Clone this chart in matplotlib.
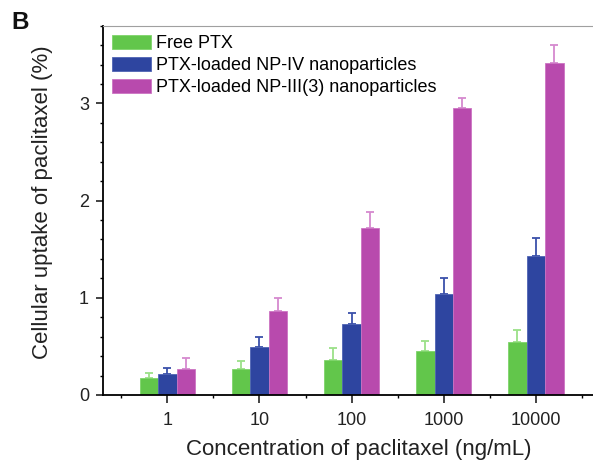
import numpy as np
import matplotlib.pyplot as plt
from matplotlib.ticker import MultipleLocator

plt.rcParams['font.family'] = ['Liberation Sans', 'DejaVu Sans']

# ── Data ──────────────────────────────────────────────────────────────────────
concentrations = ["1", "10", "100", "1000", "10000"]
series_names = ["Free PTX", "PTX-loaded NP-IV nanoparticles",
                "PTX-loaded NP-III(3) nanoparticles"]
free_ptx = [0.176, 0.272, 0.362, 0.453, 0.542]
free_ptx_err = [0.055, 0.073, 0.121, 0.106, 0.123]
np_iv = [0.217, 0.49, 0.73, 1.039, 1.43]
np_iv_err = [0.062, 0.103, 0.117, 0.168, 0.188]
np_iii = [0.266, 0.869, 1.716, 2.95, 3.419]
np_iii_err = [0.113, 0.124, 0.164, 0.106, 0.179]

colors = ["#62c64b", "#2e45a0", "#b84aad"]
edge_colors = ["#7ed46a", "#4f64b4", "#cc74c3"]
err_colors = ["#9be088", "#3a50aa", "#d589cf"]

# ── Plot ──────────────────────────────────────────────────────────────────────
fig = plt.figure(figsize=(5.93, 4.61), dpi=100)
ax = fig.add_axes([0.1737, 0.1432, 0.8263, 0.8011])

x = np.arange(len(concentrations))
width = 0.2
for i, (vals, errs) in enumerate([(free_ptx, free_ptx_err),
                                  (np_iv, np_iv_err),
                                  (np_iii, np_iii_err)]):
    pos = x + (i - 1) * width
    ax.bar(pos, vals, width, color=colors[i], edgecolor=edge_colors[i],
           linewidth=0.6, label=series_names[i], zorder=2)
    ax.errorbar(pos, vals, yerr=[np.zeros(len(vals)), errs], fmt="none",
                ecolor=err_colors[i], elinewidth=1.3, capsize=2.6,
                capthick=1.3, zorder=1)

ax.set_xlim(-0.698, 4.62)
ax.set_ylim(0, 3.8)
ax.set_xticks(x)
ax.set_xticklabels(concentrations)
ax.set_xticks(np.arange(-0.5, 4.6, 1), minor=True)
ax.yaxis.set_major_locator(MultipleLocator(1))
ax.yaxis.set_minor_locator(MultipleLocator(0.2))
ax.tick_params(which="major", direction="out", length=5, width=1.2,
               labelsize=13, pad=5, colors="#222222")
ax.tick_params(which="minor", direction="out", length=2.5, width=1)
ax.tick_params(axis="x", which="major", length=5.5, pad=7)

ax.spines["right"].set_visible(False)
ax.spines["top"].set_color("#a0a0a0")
ax.spines["top"].set_linewidth(0.8)
for side in ["left", "bottom"]:
    ax.spines[side].set_linewidth(1.3)

ax.set_xlabel("Concentration of paclitaxel (ng/mL)", fontsize=16,
              color="#222222")
ax.set_ylabel("Cellular uptake of paclitaxel (%)", fontsize=16,
              color="#222222")
ax.xaxis.set_label_coords(0.522, -0.118)
ax.yaxis.set_label_coords(-0.103, 0.523)

ax.legend(loc="upper left", frameon=False, fontsize=13,
          handlelength=2.14, handleheight=0.83, handletextpad=0.32,
          labelspacing=0.27, borderpad=0.4, borderaxespad=0.1,
          bbox_to_anchor=(0.0, 1.0))

fig.text(0.019, 0.9364, "B", fontsize=17.5, fontweight="bold",
         va="baseline", color="#111111")

fig.savefig("out.png", dpi=100)
